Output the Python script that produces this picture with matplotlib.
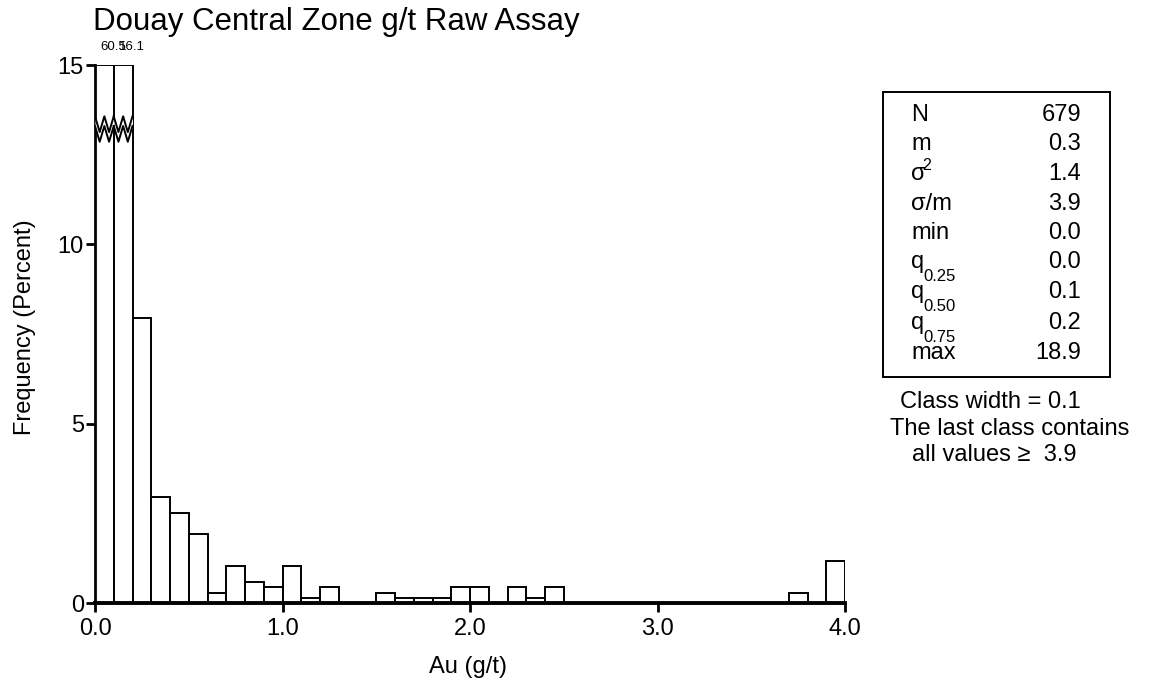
import matplotlib
matplotlib.use("Agg")
import matplotlib.pyplot as plt
from matplotlib.patches import Rectangle
import numpy as np

plt.rcParams['font.family'] = ['Liberation Sans', 'DejaVu Sans']

# Data: class lower edges and frequency (percent), class width 0.1
bin_left = [round(0.1 * i, 1) for i in range(40)]
freq_pct = [60.53, 16.05, 7.95, 2.95, 2.50, 1.91, 0.29, 1.03, 0.59, 0.44,
            1.03, 0.15, 0.44, 0.0, 0.0, 0.29, 0.15, 0.15, 0.15, 0.44,
            0.44, 0.0, 0.44, 0.15, 0.44, 0.0, 0.0, 0.0, 0.0, 0.0,
            0.0, 0.0, 0.0, 0.0, 0.0, 0.0, 0.0, 0.29, 0.0, 1.18]
class_width = 0.1
y_max = 15
x_ticks = [0.0, 1.0, 2.0, 3.0, 4.0]
x_tick_labels = ["0.0", "1.0", "2.0", "3.0", "4.0"]
y_ticks = [0, 5, 10, 15]

stat_names = ["N", "m", "σ", "σ/m", "min", "q", "q", "q", "max"]
stat_sup = [None, None, "2", None, None, None, None, None, None]
stat_sub = [None, None, None, None, None, "0.25", "0.50", "0.75", None]
stat_values = ["679", "0.3", "1.4", "3.9", "0.0", "0.0", "0.1", "0.2", "18.9"]

W, H = 1149, 685
fig = plt.figure(figsize=(W / 100, H / 100), dpi=100)
ax = fig.add_axes([95 / W, 1 - 603 / H, 750 / W, 538 / H])

heights = [min(v, y_max) for v in freq_pct]
ax.bar(bin_left, heights, width=class_width, align='edge', facecolor='white',
       edgecolor='black', linewidth=1.4, zorder=2)

# labels for clipped bars + break marks
amp = 0.22
for x0, v in zip(bin_left, freq_pct):
    if v > y_max:
        ax.text(x0 + 0.027, 15.42, f"{v:.1f}", ha='left', va='baseline',
                fontsize=9.5, clip_on=False)
        xs = np.linspace(x0, x0 + class_width, 5)
        offs = np.array([1, -1, 1, -1, 1]) * amp
        y_up = 13.35 + offs
        y_lo = 13.08 + offs
        ax.fill_between(xs, y_lo, y_up, color='white', zorder=3, linewidth=0)
        ax.plot(xs, y_up, color='black', lw=1.4, zorder=4)
        ax.plot(xs, y_lo, color='black', lw=1.4, zorder=4)

ax.set_xlim(0, 4.0)
ax.set_ylim(0, y_max)
ax.set_xticks(x_ticks)
ax.set_xticklabels(x_tick_labels)
ax.set_yticks(y_ticks)
ax.tick_params(axis='both', direction='out', length=6.5, width=2, labelsize=17)
ax.tick_params(axis='x', pad=4.5)
ax.tick_params(axis='y', pad=1.5)
for s in ['top', 'right']:
    ax.spines[s].set_visible(False)
ax.spines['left'].set_linewidth(2)
ax.spines['bottom'].set_linewidth(2.8)
ax.spines['bottom'].set_zorder(5)

fig.text(468 / W, 1 - 673 / H, "Au (g/t)", fontsize=17, ha='center', va='baseline')
fig.text(25 / W, 1 - 327 / H, "Frequency (Percent)", fontsize=17, rotation=90,
         ha='center', va='center')
fig.text(93 / W, 1 - 30 / H, "Douay Central Zone g/t Raw Assay", fontsize=22.5,
         ha='left', va='baseline')

# stats box
box = Rectangle((883 / W, 1 - 377 / H), (1110 - 883) / W, (377 - 92) / H,
                transform=fig.transFigure, fill=False, edgecolor='black', lw=1.4)
fig.add_artist(box)
row_base = [121, 150.5, 180, 209.5, 239, 268.5, 298, 329, 359]
for name, sup, sub, val, yy in zip(stat_names, stat_sup, stat_sub, stat_values, row_base):
    fig.text(911 / W, 1 - yy / H, name, fontsize=17, ha='left', va='baseline')
    fig.text(1081 / W, 1 - yy / H, val, fontsize=17, ha='right', va='baseline')
    if sup:
        fig.text(922 / W, 1 - (yy - 10) / H, sup, fontsize=11.5, ha='left', va='baseline')
    if sub:
        fig.text(923 / W, 1 - (yy + 13) / H, sub, fontsize=12, ha='left', va='baseline')

fig.text(990 / W, 1 - 408 / H, "Class width = 0.1", fontsize=17, ha='center', va='baseline')
fig.text(1010 / W, 1 - 435 / H, "The last class contains", fontsize=17, ha='center', va='baseline')
fig.text(912 / W, 1 - 461 / H, "all values ≥  3.9", fontsize=17, ha='left', va='baseline')

fig.savefig("out.png", dpi=100)
